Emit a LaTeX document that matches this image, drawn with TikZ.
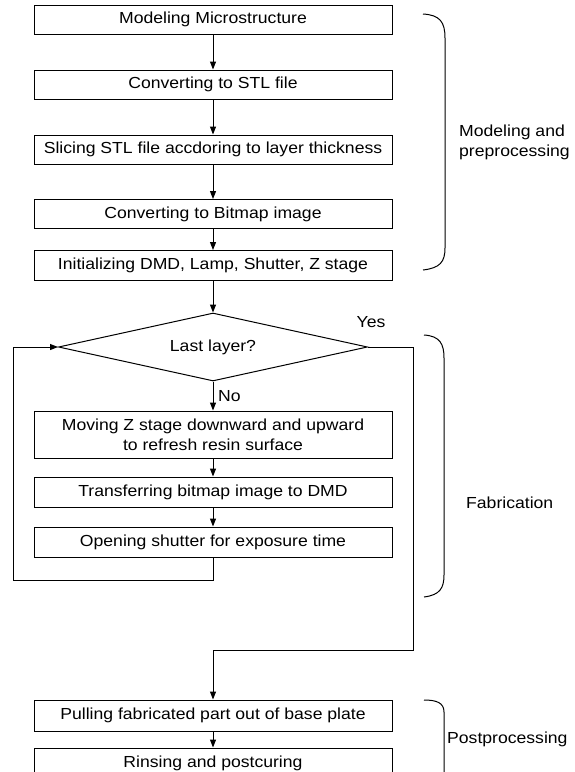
\documentclass[tikz,border=0pt]{standalone}
\usepackage{fontspec}
\setmainfont{Liberation Sans}[FakeStretch=1.1]
\usetikzlibrary{shapes.geometric,arrows.meta}
\begin{document}
\begin{tikzpicture}[x=1pt,y=-1pt,
  txt/.style={font=\fontsize{16}{20}\selectfont},
  box/.style={draw,line width=1pt,minimum width=358pt,minimum height=29pt,inner sep=0pt,txt,align=center},
  arr/.style={line width=1pt,-{Triangle[length=8pt,width=6pt]}},
  ln/.style={line width=1pt},
  lab/.style={txt,align=left,anchor=west,inner sep=0pt}]
\clip (0,0) rectangle (575,772);
\node[box] (b1) at (213,19.5) {Modeling Microstructure};
\node[box] (b2) at (213,84.5) {Converting to STL file};
\node[box] (b3) at (213,149.5) {Slicing STL file accdoring to layer thickness};
\node[box] (b4) at (213,214) {Converting to Bitmap image};
\node[box,minimum height=30pt] (b5) at (213,265.5) {Initializing DMD, Lamp, Shutter, Z stage};
\node[draw,diamond,aspect=4.5,line width=1pt,minimum width=309pt,minimum height=68pt,inner sep=0pt,txt] (dia) at (213,347) {Last layer?};
\node[box,minimum height=47pt] (b6) at (213,434.5) {Moving Z stage downward and upward\\to refresh resin surface};
\node[box,minimum height=30pt] (b7) at (213,492) {Transferring bitmap image to DMD};
\node[box,minimum height=30pt] (b8) at (213,542) {Opening shutter for exposure time};
\node[box,minimum height=31pt] (b9) at (213,715.5) {Pulling fabricated part out of base plate};
\node[box,minimum height=30pt] (b10) at (213,763) {Rinsing and postcuring};

\draw[arr] (b1) -- (b2);
\draw[arr] (b2) -- (b3);
\draw[arr] (b3) -- (b4);
\draw[arr] (b4) -- (b5);
\draw[arr] (b5) -- (dia);
\draw[arr] (dia) -- (b6);
\draw[arr] (b6) -- (b7);
\draw[arr] (b7) -- (b8);
\draw[arr] (b9) -- (b10);

\coordinate (lp) at (13,580);
\coordinate (yp) at (413,650);
\draw[arr] (b8.south) |- (lp) |- (dia.west);
\draw[arr] (dia.east) -| (yp) -| (b9.north);

\node[lab] (no) at (218,396) {No};
\node[txt,inner sep=0pt] (yes) at (371,322) {Yes};

\draw[ln] (423,14) .. controls (440,15) and (445,22) .. (445,38) -- (445,248) .. controls (445,262) and (440,268) .. (423,270);
\draw[ln] (424,335) .. controls (440,336) and (444,344) .. (444,358) -- (444,575) .. controls (444,588) and (440,595) .. (424,597);
\draw[ln] (424,700) .. controls (437,700) and (444,703) .. (444,712) -- (444,790);

\node[lab] (t1) at (459,142) {Modeling and\\preprocessing};
\node[lab] (t2) at (466,503) {Fabrication};
\node[lab] (t3) at (447,739) {Postprocessing};
\end{tikzpicture}
\end{document}
